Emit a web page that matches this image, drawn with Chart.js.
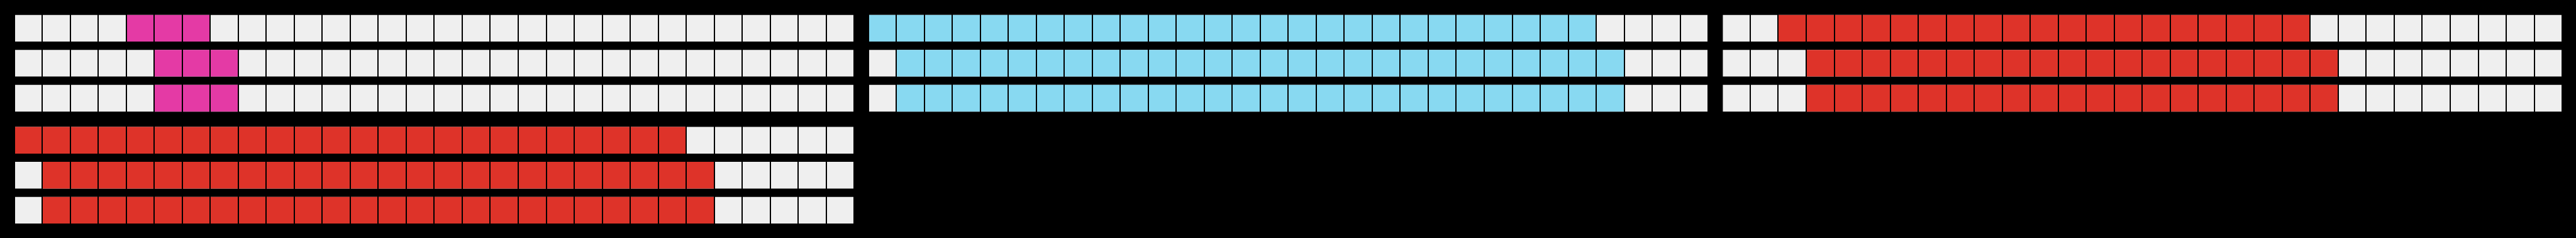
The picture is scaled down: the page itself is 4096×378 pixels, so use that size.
<!DOCTYPE html>
<html>
<head>
<meta charset="utf-8">
<script src="https://cdn.jsdelivr.net/npm/chart.js@4.4.0/dist/chart.umd.min.js"></script>
<style>
  html, body { margin: 0; padding: 0; background: #000; }
  #wrap { position: relative; width: 4096px; height: 378px; overflow: hidden; background: #000; }
  #wrap canvas { position: absolute; left: 0; top: 0; }
</style>
</head>
<body>
<div id="wrap">
  <canvas id="p1" width="4096" height="378"></canvas>
  <canvas id="p2" width="4096" height="378"></canvas>
  <canvas id="p3" width="4096" height="378"></canvas>
  <canvas id="p4" width="4096" height="378"></canvas>
</div>
<script>
// every row has 30 cells, every panel 3 rows
const cellsPerRow = 30;
const rowNames = ['1', '2', '3'];

// first and last coloured cell of each row (0-based, inclusive)
const pinkFirst = [4, 5, 5];
const pinkLast = [6, 7, 7];
const blueFirst = [0, 1, 1];
const blueLast = [25, 26, 26];
const redAFirst = [2, 3, 3];
const redALast = [20, 21, 21];
const redBFirst = [0, 1, 1];
const redBLast = [23, 24, 24];

const EMPTY = '#efefef';

// reference was 5888x544, window is 4096x378
const sx = 4096 / 5888, sy = 378 / 544;

const panels = [
  { id: 'p1', col: 0, row: 0, first: pinkFirst, last: pinkLast, color: '#e43aa5' },
  { id: 'p2', col: 1, row: 0, first: blueFirst, last: blueLast, color: '#88d9f1' },
  { id: 'p3', col: 2, row: 0, first: redAFirst, last: redALast, color: '#de3329' },
  { id: 'p4', col: 0, row: 1, first: redBFirst, last: redBLast, color: '#de3329' }
];

panels.forEach(function (p) {
  // plot area in reference pixels
  const left = (32.5 + p.col * 1952) * sx;
  const top = (24.5 + p.row * 256) * sy;
  const w = 1920 * sx, h = 240 * sy;

  new Chart(document.getElementById(p.id), {
    type: 'bar',
    data: {
      labels: rowNames,
      datasets: [
        {
          // coloured run, drawn on top (lower order)
          order: 0,
          data: rowNames.map((r, i) => [p.first[i], p.last[i] + 1]),
          backgroundColor: p.color
        },
        {
          order: 1,
          data: rowNames.map(() => [0, cellsPerRow]),
          backgroundColor: EMPTY
        }
      ]
    },
    options: {
      indexAxis: 'y',
      responsive: false,
      animation: false,
      devicePixelRatio: 1,
      layout: { padding: { left: left, top: top, right: 4096 - left - w, bottom: 378 - top - h } },
      datasets: {
        bar: {
          grouped: false,
          categoryPercentage: 1,
          barPercentage: 61 / 80,
          borderWidth: 0,
          inflateAmount: 0
        }
      },
      plugins: { legend: { display: false }, tooltip: { enabled: false } },
      scales: {
        x: {
          type: 'linear',
          min: 0,
          max: cellsPerRow,
          ticks: { display: false, stepSize: 1 },
          border: { display: false },
          grid: { color: '#000', lineWidth: 2, drawTicks: false, z: 1 }
        },
        y: { display: false }
      }
    }
  });
});
</script>
</body>
</html>
